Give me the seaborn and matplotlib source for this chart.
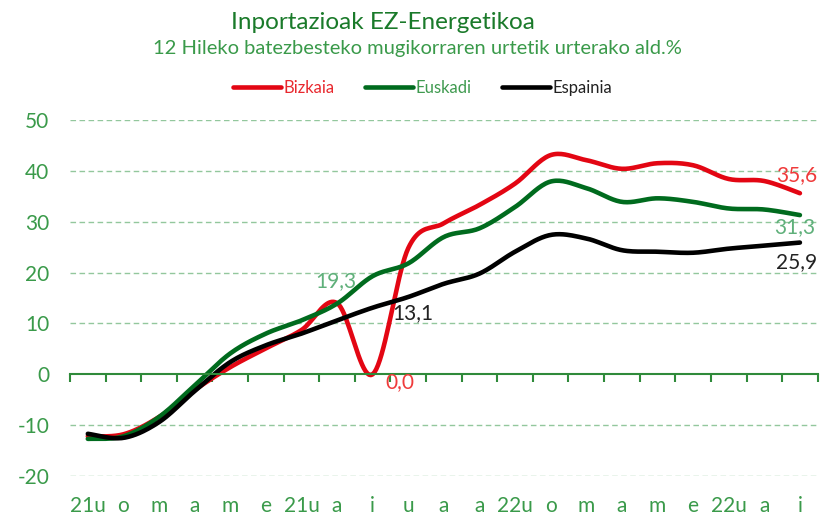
import numpy as np
import pandas as pd
import seaborn as sns
import matplotlib.pyplot as plt
import matplotlib.transforms as mtransforms
from matplotlib.lines import Line2D

# --- DATOS ---
hilabeteak = ['21u', 'o', 'm', 'a', 'm', 'e', '21u', 'a', 'i', 'u', 'a', 'a',
              '22u', 'o', 'm', 'a', 'm', 'e', '22u', 'a', 'i']
bizkaia = [-12.2, -11.8, -8.4, -3.1, 1.4, 5.1, 8.7, 14.0, 0.0, 24.8, 29.7, 33.3,
           37.5, 43.1, 42.1, 40.4, 41.5, 41.1, 38.4, 38.0, 35.6]
euskadi = [-12.7, -12.2, -8.4, -2.2, 4.1, 8.0, 10.6, 13.9, 19.3, 21.8, 27.0, 28.7,
           32.9, 37.9, 36.6, 33.9, 34.6, 33.9, 32.6, 32.4, 31.3]
espainia = [-11.7, -12.5, -9.4, -3.3, 2.4, 5.7, 8.0, 10.6, 13.1, 15.2, 17.8, 19.8,
            24.1, 27.4, 26.7, 24.4, 24.1, 23.9, 24.7, 25.3, 25.9]

kolore = {'Bizkaia': '#e30613', 'Euskadi': '#006b1e', 'Espainia': '#000000'}
testu_kolore = {'Bizkaia': '#e8282e', 'Euskadi': '#3f9a4f', 'Espainia': '#222222'}


def leundu(y, n=20):
    # Excel-en "smoothed line" antzekoa (Catmull-Rom / Bezier)
    y = np.asarray(y, dtype=float)
    x = np.arange(len(y), dtype=float)
    px = np.concatenate([[x[0]], x, [x[-1]]])
    py = np.concatenate([[y[0]], y, [y[-1]]])
    xs, ys = [], []
    t = np.linspace(0, 1, n, endpoint=False)
    for i in range(len(y) - 1):
        p0 = np.array([x[i], y[i]])
        p3 = np.array([x[i + 1], y[i + 1]])
        c1 = p0 + (np.array([px[i + 2], py[i + 2]]) - np.array([px[i], py[i]])) / 6
        c2 = p3 - (np.array([px[i + 3], py[i + 3]]) - np.array([px[i + 1], py[i + 1]])) / 6
        b = ((1 - t) ** 3)[:, None] * p0 + (3 * (1 - t) ** 2 * t)[:, None] * c1 \
            + (3 * (1 - t) * t ** 2)[:, None] * c2 + (t ** 3)[:, None] * p3
        xs.append(b[:, 0]); ys.append(b[:, 1])
    xs.append([x[-1]]); ys.append([y[-1]])
    return np.concatenate(xs), np.concatenate(ys)


zatiak = []
for izena, balioak in [('Bizkaia', bizkaia), ('Euskadi', euskadi), ('Espainia', espainia)]:
    xx, yy = leundu(balioak)
    zatiak.append(pd.DataFrame({'x': xx, 'y': yy, 'serie': izena}))
df = pd.concat(zatiak, ignore_index=True)

# --- GRAFIKOA ---
sns.set_theme(style='white')
plt.rcParams['font.family'] = ['Lato', 'DejaVu Sans']

fig = plt.figure(figsize=(8.21, 5.17), dpi=100)
ax = fig.add_axes([0.0853, 0.0793, 0.9107, 0.6886])

grid_kolore = '#93c79d'
for v in [-20, -10, 10, 20, 30, 40, 50]:
    ax.axhline(v, color=grid_kolore, lw=1.0, ls=(0, (4, 2.5)), zorder=0)

sns.lineplot(data=df, x='x', y='y', hue='serie', palette=kolore,
             hue_order=['Bizkaia', 'Euskadi', 'Espainia'],
             linewidth=3.3, ax=ax, sort=False, estimator=None, legend=False)

ax.set_xlim(-0.5, len(hilabeteak) - 0.5)
ax.set_ylim(-20, 50)
ax.set_yticks([-20, -10, 0, 10, 20, 30, 40, 50])
ax.set_yticklabels(['-20', '-10', '0', '10', '20', '30', '40', '50'])
ax.tick_params(axis='y', left=False, length=0, pad=15, labelsize=15, labelcolor='#3a9a4a')
ax.set_xlabel('')
ax.set_ylabel('')

for s in ['top', 'right', 'left']:
    ax.spines[s].set_visible(False)
ax.spines['bottom'].set_position(('data', 0))
ax.spines['bottom'].set_color('#2f8a3a')
ax.spines['bottom'].set_linewidth(1.5)
ax.set_xticks(np.arange(-0.5, len(hilabeteak), 1.0))
ax.set_xticklabels([])
ax.tick_params(axis='x', bottom=True, direction='out', length=6, width=1.5, color='#2f8a3a')

trans = mtransforms.blended_transform_factory(ax.transData, ax.transAxes)
for i, lab in enumerate(hilabeteak):
    ax.text(i, -0.085, lab, transform=trans, ha='center', va='center',
            fontsize=15, color='#3a9a4a')

# datu etiketak
ax.text(8 - 0.45, 19.3 - 1.0, '19,3', ha='right', va='center', fontsize=15, color='#5fb07a')
ax.text(8 + 0.55, 13.1 - 1.0, '13,1', ha='left', va='center', fontsize=15, color='#222222')
ax.text(8 + 0.35, 0.0 - 1.6, '0,0', ha='left', va='center', fontsize=15, color='#ef3b3b')
ax.text(20 - 0.1, 35.6 + 3.5, '35,6', ha='center', va='center', fontsize=15, color='#ef3b3b')
ax.text(20 - 0.15, 31.3 - 2.3, '31,3', ha='center', va='center', fontsize=15, color='#5fb07a')
ax.text(20 - 0.1, 25.9 - 3.9, '25,9', ha='center', va='center', fontsize=15, color='#222222')

# izenburuak
fig.text(0.467, 0.957, 'Inportazioak EZ-Energetikoa', ha='center', va='center',
         fontsize=17.5, color='#1a7a2a')
fig.text(0.508, 0.906, '12 Hileko batezbesteko mugikorraren urtetik urterako ald.%',
         ha='center', va='center', fontsize=14.5, color='#3a9a4a')

# legenda
eskuak = [Line2D([0], [0], color=kolore[k], lw=3.3) for k in kolore]
leg = fig.legend(eskuak, list(kolore), loc='center', bbox_to_anchor=(0.515, 0.83),
                 ncol=3, frameon=False, fontsize=12, handlelength=2.9,
                 handletextpad=0.15, columnspacing=1.8)
for txt, k in zip(leg.get_texts(), kolore):
    txt.set_color(testu_kolore[k])

fig.savefig('out.png', dpi=100)
